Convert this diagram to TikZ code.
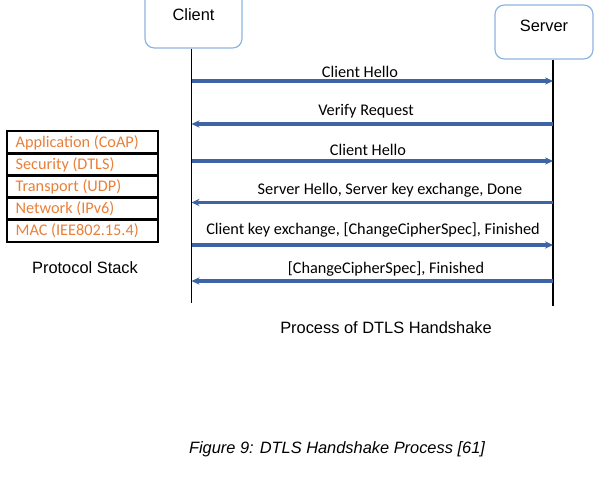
\documentclass[tikz,border=0pt]{standalone}
\usepackage{fontspec}
\setmainfont{Liberation Sans}
\newfontfamily\calibri{Carlito}
\usetikzlibrary{arrows.meta,positioning}
\definecolor{msgblue}{HTML}{3F64A5}
\definecolor{boxblue}{HTML}{8DB3E2}
\definecolor{layerorange}{HTML}{E8803A}

\begin{document}
\begin{tikzpicture}[x=0.75pt,y=-0.75pt,
  actor/.style={draw=boxblue, line width=0.9pt, rounded corners=7pt, font=\fontsize{12.3}{14}\selectfont},
  msg/.style={draw=msgblue, line width=2.4pt, -{Stealth[length=6pt,width=5.5pt]}},
  msglabel/.style={font=\calibri\fontsize{12.2}{14}\selectfont},
  layer/.style={draw, line width=1.3pt, outer sep=0pt, anchor=north west, minimum height=16.5pt,
    text width=100pt, inner xsep=6.5pt, align=flush left, text=layerorange, font=\calibri\fontsize{12.2}{14}\selectfont},
  caption/.style={font=\fontsize{12.3}{14}\selectfont}]
\useasboundingbox (0,0) rectangle (600,489);

% Participants
\node[actor, minimum width=72.75pt, minimum height=49.5pt] (client) at (193.5,15) {Client};
\node[actor, minimum width=73.5pt, minimum height=40.5pt, text depth=9pt] (server) at (544,32) {Server};

% Lifelines
\coordinate (cbot) at (191.5,303);
\coordinate (sbot) at (553,306);
\draw[line width=0.8pt] (client.south -| cbot) -- (cbot);
\draw[line width=0.8pt] (server.south -| sbot) -- (sbot);

% Handshake messages
\foreach \y/\ly/\lx/\txt [count=\i] in {
  81/72/360/{Client Hello},
  124/111/366/{Verify Request},
  161/150/368/{Client Hello},
  202.5/190.5/390/{Server Hello, Server key exchange, Done},
  245/230/373/{Client key exchange, [ChangeCipherSpec], Finished},
  281/269/386/{[ChangeCipherSpec], Finished}}{
  \coordinate (c\i) at (191.5,\y);
  \coordinate (s\i) at (553,\y);
  \ifodd\i
    \draw[msg] (c\i) -- (s\i);
  \else
    \draw[msg] (s\i) -- (c\i);
  \fi
  \node[msglabel] (m\i) at (\lx,\ly) {\txt};
}

% Protocol stack
\foreach \lname [count=\i] in {Application (CoAP), Security (DTLS), Transport (UDP), Network (IPv6), MAC (IEE802.15.4)}
  \node[layer] (layer\i) at (7,{131+22*(\i-1)}) {\lname};

\node[caption] (stack) at (85,268) {Protocol Stack};
\node[caption] (process) at (386,328) {Process of DTLS Handshake};
\node[caption, font=\fontsize{12.3}{14}\selectfont\itshape] (figcap) at (337,449) {Figure 9: DTLS Handshake Process [61]};
\end{tikzpicture}
\end{document}
